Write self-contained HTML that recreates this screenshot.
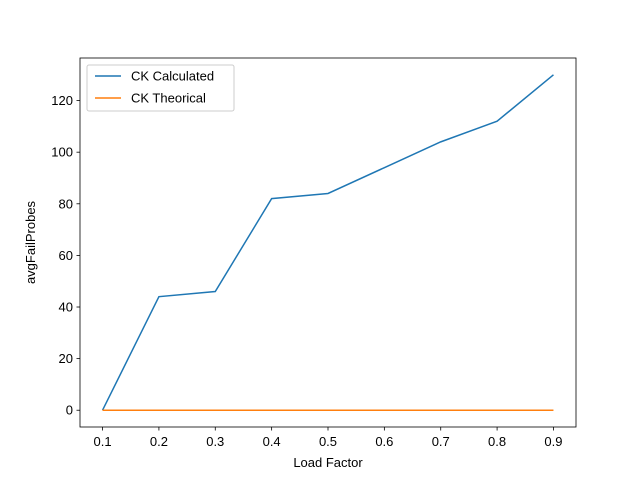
<!DOCTYPE html>
<html><head><meta charset="utf-8"><style>body{margin:0;background:#fff}svg{display:block;font-family:"Liberation Sans","DejaVu Sans",sans-serif}</style></head>
<body>
<svg id="chart" width="640" height="480" viewBox="0 0 640 480"></svg>
<script>
const categories=[0.1,0.2,0.3,0.4,0.5,0.6,0.7,0.8,0.9];
const calculated=[0,44,46,82,84,94,104,112,130];
const theoretical=[0,0,0,0,0,0,0,0,0];
const xTicks=[0.1,0.2,0.3,0.4,0.5,0.6,0.7,0.8,0.9];
const yTicks=[0,20,40,60,80,100,120];
const L=80,R=576,T=58,B=427;
const xmin=0.06,xmax=0.94,ymin=-6.5,ymax=136.5;
const sx=v=>L+(v-xmin)/(xmax-xmin)*(R-L);
const sy=v=>B-(v-ymin)/(ymax-ymin)*(B-T);
const svg=document.getElementById('chart');const NS='http://www.w3.org/2000/svg';
function mk(t,a,p){const e=document.createElementNS(NS,t);for(const k in a)e.setAttribute(k,a[k]);(p||svg).appendChild(e);return e;}
xTicks.forEach(v=>{const x=sx(v);
const t=mk('line',{x1:x,x2:x,y1:B,y2:B+3.5,stroke:'#000','stroke-width':0.8});


const l=mk('text',{x:x,y:B+19,'font-size':13,'text-anchor':'middle'});l.textContent=v.toFixed(1);

});
yTicks.forEach(v=>{const y=sy(v);
const t=mk('line',{x1:L-3.5,x2:L,y1:y,y2:y,stroke:'#000','stroke-width':0.8});


const l=mk('text',{x:L-7,y:y+4.5,'font-size':13,'text-anchor':'end'});l.textContent=v;

});
function line(arr,color,name){const p=mk('polyline',{points:arr.map((v,i)=>sx(categories[i])+','+sy(v)).join(' '),fill:'none',stroke:color,'stroke-width':1.5});

}
line(calculated,'#1f77b4','ck-calculated-line');
line(theoretical,'#ff7f0e','ck-theorical-line');
const f=mk('rect',{x:L,y:T,width:R-L,height:B-T,fill:'none',stroke:'#000','stroke-width':0.8});


const xt=mk('text',{x:(L+R)/2,y:467,'font-size':13,'text-anchor':'middle'});xt.textContent='Load Factor';


const yt=mk('text',{x:0,y:0,'font-size':13,'text-anchor':'middle',transform:`translate(35,${(T+B)/2}) rotate(-90)`});yt.textContent='avgFailProbes';


const lg=mk('rect',{x:87,y:65,width:147,height:46,rx:2,fill:'#fff',stroke:'#ccc','stroke-width':1});


[['CK Calculated','#1f77b4',76],['CK Theorical','#ff7f0e',98]].forEach(([n,c,y])=>{
const ln=mk('line',{x1:95,x2:121,y1:y,y2:y,stroke:c,'stroke-width':1.5});


const t=mk('text',{x:131,y:y+4.5,'font-size':13});t.textContent=n;

});
</script>
</body></html>
